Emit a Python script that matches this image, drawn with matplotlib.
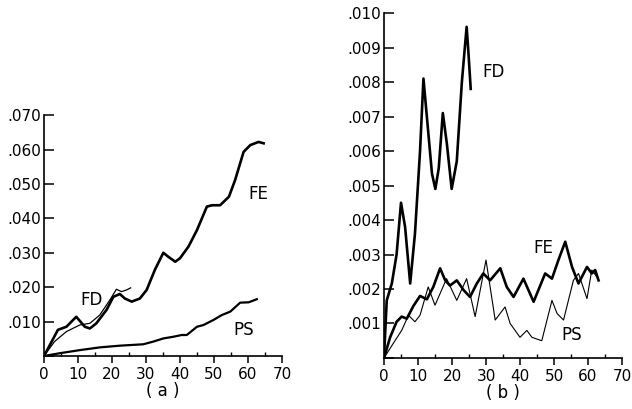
import matplotlib
matplotlib.use("Agg")
import matplotlib.pyplot as plt
from matplotlib.ticker import MultipleLocator, FuncFormatter

# ---- panel (a) data ----
a_fe_x = [0, 4.1, 6.6, 9.5, 12, 13.5, 15.4, 18.4, 20.4, 22.3, 23.8, 25.8, 28.2, 30.2, 32.6, 35.1, 36.6, 38.6, 40, 42.5, 45, 47.9, 49.4, 51.8, 54.4, 56.2, 58.7, 60.7, 63.1, 64.6]
a_fe_y = [0, 0.0076, 0.0085, 0.0114, 0.0085, 0.0080, 0.0095, 0.0134, 0.0172, 0.0180, 0.0167, 0.0158, 0.0167, 0.0192, 0.0250, 0.0300, 0.0288, 0.0274, 0.0284, 0.0318, 0.0366, 0.0434, 0.0438, 0.0438, 0.0463, 0.0511, 0.0593, 0.0613, 0.0622, 0.0618]
a_fd_x = [0, 3.1, 6.6, 10.5, 13.5, 16.4, 19.4, 21.3, 22.8, 24.3, 25.5]
a_fd_y = [0, 0.0042, 0.0071, 0.0090, 0.0095, 0.0119, 0.0163, 0.0194, 0.0187, 0.0192, 0.0198]
a_ps_x = [0, 4.6, 10.5, 16.4, 22.3, 29.2, 32.2, 35.1, 38.1, 40.5, 42, 45, 46.9, 49.9, 52.3, 54.8, 57.7, 60.2, 62.6]
a_ps_y = [0, 0.0008, 0.0017, 0.0025, 0.0030, 0.0034, 0.0042, 0.0051, 0.0056, 0.0061, 0.0061, 0.0085, 0.0090, 0.0105, 0.0119, 0.0129, 0.0155, 0.0156, 0.0165]

# ---- panel (b) data ----
b_fd_x = [0, 0.8, 2.3, 3.7, 5, 6.2, 7.7, 9.1, 10.6, 11.6, 12.6, 14.1, 15.1, 16.1, 17.3, 18.5, 19.9, 21.4, 22.9, 24.3, 24.8, 25.5]
b_fd_y = [0, 0.00167, 0.00216, 0.0030, 0.0045, 0.0038, 0.00216, 0.0036, 0.0060, 0.0081, 0.0070, 0.00535, 0.0049, 0.0055, 0.0071, 0.0062, 0.0049, 0.0057, 0.0080, 0.0096, 0.0089, 0.0078]
b_fe_x = [0, 1.8, 3.7, 5.2, 6.7, 8.6, 10.6, 12.6, 14.5, 16.5, 18, 19.4, 21.4, 23.4, 25.3, 27.3, 29.2, 31.2, 34.2, 36.1, 38.1, 41, 44, 47.4, 49.4, 51.3, 53.3, 55.3, 57.2, 59.7, 61.1, 62.1, 63.1]
b_fe_y = [0, 0.0006, 0.00105, 0.0012, 0.00114, 0.0015, 0.0018, 0.0017, 0.00206, 0.0026, 0.00225, 0.0021, 0.00225, 0.00197, 0.00177, 0.00216, 0.00245, 0.00225, 0.0026, 0.00206, 0.00177, 0.0023, 0.00163, 0.00245, 0.0023, 0.00284, 0.00337, 0.00264, 0.00216, 0.00264, 0.00245, 0.00255, 0.00225]
b_ps_x = [0, 2.7, 5.2, 7.2, 9.1, 10.6, 13, 15, 18.4, 21.4, 24.3, 26.8, 30, 32.7, 35.6, 37.1, 40, 42, 43.5, 46.4, 49.4, 50.9, 52.8, 55.7, 57.2, 59.7, 61.1, 62.6]
b_ps_y = [0, 0.00042, 0.0008, 0.00124, 0.00105, 0.00124, 0.00206, 0.00153, 0.0023, 0.00167, 0.0023, 0.0012, 0.00284, 0.0011, 0.00148, 0.0010, 0.0006, 0.0008, 0.0006, 0.0005, 0.00167, 0.00129, 0.0011, 0.00225, 0.00245, 0.00172, 0.00255, 0.00235]

x_ticks = [0, 10, 20, 30, 40, 50, 60, 70]

plt.rcParams['font.family'] = ['DejaVu Sans']
fig = plt.figure(figsize=(6.32, 4.09), dpi=100)

def style(ax, ymax, ystep, caption):
    ax.set_xlim(0, 70)
    ax.set_ylim(0, ymax)
    for s in ('top', 'right'):
        ax.spines[s].set_visible(False)
    for s in ('left', 'bottom'):
        ax.spines[s].set_linewidth(1.2)
    ax.xaxis.set_major_locator(MultipleLocator(10))
    ax.xaxis.set_minor_locator(MultipleLocator(5))
    ax.yaxis.set_major_locator(MultipleLocator(ystep))
    ax.yaxis.set_major_formatter(FuncFormatter(
        lambda v, p: '' if v == 0 else ('%.3f' % v)[1:]))
    ax.tick_params(axis='x', which='major', direction='out', length=5, width=1.1, labelsize=11, pad=3)
    ax.tick_params(axis='x', which='minor', direction='in', length=3, width=1.0)
    ax.tick_params(axis='y', which='major', direction='in', length=7, width=1.1, labelsize=11, pad=2)
    ax.set_xlabel(caption, fontsize=12, labelpad=0)

ax1 = fig.add_axes([0.0696, 0.1296, 0.3766, 0.589])
ax1.plot(a_fe_x, a_fe_y, color='black', lw=1.9, solid_joinstyle='round')
ax1.plot(a_fd_x, a_fd_y, color='black', lw=0.9, solid_joinstyle='round')
ax1.plot(a_ps_x, a_ps_y, color='black', lw=1.6, solid_joinstyle='round')
style(ax1, 0.070, 0.010, '( a )')
ax1.text(63.1, 0.0472, 'FE', fontsize=12, ha='center', va='center')
ax1.text(14.0, 0.0163, 'FD', fontsize=12, ha='center', va='center')
ax1.text(58.7, 0.0076, 'PS', fontsize=12, ha='center', va='center')

ax2 = fig.add_axes([0.6076, 0.1247, 0.3766, 0.8435])
ax2.plot(b_fd_x, b_fd_y, color='black', lw=1.9, solid_joinstyle='round')
ax2.plot(b_fe_x, b_fe_y, color='black', lw=1.9, solid_joinstyle='round')
ax2.plot(b_ps_x, b_ps_y, color='black', lw=0.8, solid_joinstyle='round')
style(ax2, 0.010, 0.001, '( b )')
ax2.text(32.2, 0.0083, 'FD', fontsize=12, ha='center', va='center')
ax2.text(46.9, 0.00318, 'FE', fontsize=12, ha='center', va='center')
ax2.text(55.3, 0.00066, 'PS', fontsize=12, ha='center', va='center')

fig.savefig('out.png', dpi=100)
